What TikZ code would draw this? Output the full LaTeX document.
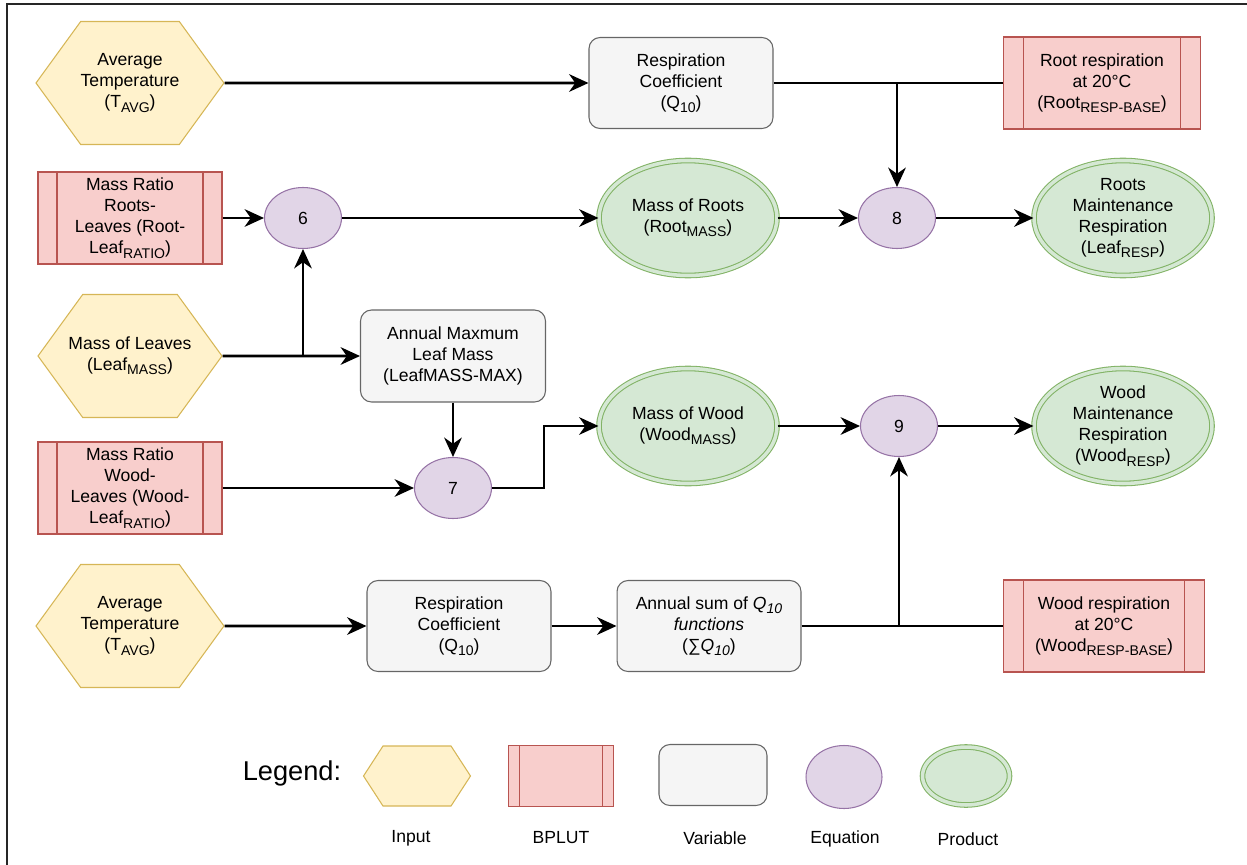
\documentclass[tikz,border=0pt]{standalone}
\usepackage{fontspec}
\setmainfont{Liberation Sans}
\usetikzlibrary{arrows.meta,shapes.geometric,shapes.symbols}

\definecolor{inputfill}{HTML}{FFF2CC}
\definecolor{inputdraw}{HTML}{D6B656}
\definecolor{bplutfill}{HTML}{F8CECC}
\definecolor{bplutdraw}{HTML}{B85450}
\definecolor{varfill}{HTML}{F5F5F5}
\definecolor{vardraw}{HTML}{666666}
\definecolor{eqfill}{HTML}{E1D5E7}
\definecolor{eqdraw}{HTML}{9673A6}
\definecolor{prodfill}{HTML}{D5E8D4}
\definecolor{proddraw}{HTML}{82B366}

\newcommand{\subtxt}[1]{\raisebox{-0.45ex}{\fontsize{8}{8}\selectfont #1}}

\begin{document}
\begin{tikzpicture}[x=0.02cm,y=-0.02cm,
    font=\fontsize{10}{12}\selectfont,
    inputhex/.style={signal, signal to=east and west, signal pointer angle=108,
      draw=inputdraw, fill=inputfill, line width=0.6pt, inner sep=0pt,
      minimum width=3.68cm, minimum height=2.46cm, align=center},
    bplut/.style={rectangle, draw=bplutdraw, fill=bplutfill, line width=0.6pt,
      inner sep=1pt, minimum width=3.68cm, minimum height=1.84cm, align=center,
      path picture={\draw[bplutdraw, line width=0.6pt]
        ([xshift=#1]path picture bounding box.north west) -- ([xshift=#1]path picture bounding box.south west)
        ([xshift=-#1]path picture bounding box.north east) -- ([xshift=-#1]path picture bounding box.south east);}},
    bplut/.default=0.38cm,
    varbox/.style={rectangle, rounded corners=0.22cm, draw=vardraw, fill=varfill, line width=0.6pt,
      inner sep=1pt, minimum width=3.68cm, minimum height=1.82cm, align=center},
    eqnode/.style={ellipse, draw=eqdraw, fill=eqfill, line width=0.6pt, inner sep=0pt,
      minimum width=1.54cm, minimum height=1.22cm},
    prodnode/.style={ellipse, draw=proddraw, double=prodfill, double distance=2pt, line width=0.6pt,
      fill=prodfill, inner sep=0pt, minimum width=3.56cm, minimum height=2.3cm, align=center},
    flow/.style={line width=1.6pt, -{Stealth[length=11pt,width=10pt,inset=3.5pt]}},
    link/.style={line width=1.6pt}]
  \useasboundingbox (0,0) rectangle (1247,865);
  \draw[line width=1.1pt, black!85] (7,865) -- (7,4) -- (1247,4);

  % top row
  \node[inputhex] (tavgA) at (130,83) {Average\\Temperature\\(T\subtxt{AVG})};
  \node[varbox] (coefA) at (681,83) {Respiration\\Coefficient\\(Q\subtxt{10})};
  \node[bplut=0.4cm, minimum width=3.94cm] (rootbase) at (1102,83) {Root respiration\\at 20°C\\(Root\subtxt{RESP-BASE})};

  % roots
  \node[bplut] (ratioR) at (130,218) {Mass Ratio\\Roots-\\Leaves (Root-\\Leaf\subtxt{RATIO})};
  \node[eqnode] (eq6) at (303,218) {6};
  \node[prodnode] (rootmass) at (688,218) {Mass of Roots\\(Root\subtxt{MASS})};
  \node[eqnode] (eq8) at (897,218) {8};
  \node[prodnode] (rootresp) at (1123,218) {Roots\\Maintenance\\Respiration\\(Leaf\subtxt{RESP})};

  % leaves and wood
  \node[inputhex, inner xsep=-0.3cm] (leafmass) at (130,356) {Mass of Leaves\\(Leaf\subtxt{MASS})};
  \node[varbox, minimum width=3.7cm, minimum height=1.84cm] (leafmax) at (453,356) {Annual Maxmum\\Leaf Mass\\(LeafMASS-MAX)};
  \node[bplut] (ratioW) at (130,488) {Mass Ratio\\Wood-\\Leaves (Wood-\\Leaf\subtxt{RATIO})};
  \node[eqnode] (eq7) at (453,488) {7};
  \node[prodnode] (woodmass) at (688,426) {Mass of Wood\\(Wood\subtxt{MASS})};
  \node[eqnode] (eq9) at (899,426) {9};
  \node[prodnode] (woodresp) at (1123,426) {Wood\\Maintenance\\Respiration\\(Wood\subtxt{RESP})};

  % bottom row
  \node[inputhex] (tavgB) at (130,626) {Average\\Temperature\\(T\subtxt{AVG})};
  \node[varbox] (coefB) at (459,626) {Respiration\\Coefficient\\(Q\subtxt{10})};
  \node[varbox] (sumq) at (709,626) {Annual sum of \textit{Q\subtxt{10}}\\\textit{functions}\\(∑\textit{Q\subtxt{10}})};
  \node[bplut=0.4cm, minimum width=4.02cm] (woodbase) at (1104,626) {Wood respiration\\at 20°C\\(Wood\subtxt{RESP-BASE})};

  % connectors
  \draw[flow] (tavgA) -- (coefA);
  \draw[link] (coefA) -- (rootbase);
  \draw[flow] (eq8.north |- coefA.east) -- (eq8.north);
  \draw[flow] (ratioR) -- (eq6);
  \draw[flow] (eq6) -- (rootmass);
  \draw[flow] (rootmass) -- (eq8);
  \draw[flow] (eq8) -- (rootresp);
  \draw[flow] (leafmass) -- (leafmax);
  \draw[flow] (eq6.south |- leafmass.east) -- (eq6.south);
  \draw[flow] (leafmax) -- (eq7);
  \draw[flow] (ratioW) -- (eq7);
  \draw[flow] (eq7.east) -- ++(52,0) |- (woodmass.west);
  \draw[flow] (woodmass) -- (eq9);
  \draw[flow] (eq9) -- (woodresp);
  \draw[flow] (tavgB) -- (coefB);
  \draw[flow] (coefB) -- (sumq);
  \draw[link] (sumq) -- (woodbase);
  \draw[flow] (eq9.south |- sumq.east) -- (eq9.south);

  % legend
  \node[font=\fontsize{15.5}{18}\selectfont] (legtitle) at (292,773) {Legend:};
  \node[inputhex, signal pointer angle=114, minimum width=2.14cm, minimum height=1.2cm] (leginput) at (417,776) {};
  \node[bplut=0.22cm, minimum width=2.1cm, minimum height=1.22cm] (legbplut) at (561,776) {};
  \node[varbox, minimum width=2.16cm, minimum height=1.22cm] (legvar) at (713,775) {};
  \node[eqnode, minimum width=1.52cm, minimum height=1.26cm] (legeq) at (844,777) {};
  \node[prodnode, minimum width=1.74cm, minimum height=1.16cm] (legprod) at (966,776) {};
  \node (labinput) at (411,838) {Input};
  \node (labbplut) at (561,838) {BPLUT};
  \node (labvar) at (715,838) {Variable};
  \node (labeq) at (845,839) {Equation};
  \node (labprod) at (968,839) {Product};
\end{tikzpicture}
\end{document}
